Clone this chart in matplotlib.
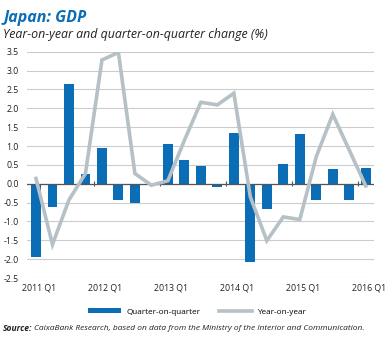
import matplotlib
import matplotlib.pyplot as plt
import numpy as np
from matplotlib.patches import Patch
from matplotlib.lines import Line2D

matplotlib.use("Agg")

quarters = ["2011 Q1", "2011 Q2", "2011 Q3", "2011 Q4",
            "2012 Q1", "2012 Q2", "2012 Q3", "2012 Q4",
            "2013 Q1", "2013 Q2", "2013 Q3", "2013 Q4",
            "2014 Q1", "2014 Q2", "2014 Q3", "2014 Q4",
            "2015 Q1", "2015 Q2", "2015 Q3", "2015 Q4",
            "2016 Q1"]
qoq = [-1.94, -0.61, 2.65, 0.26, 0.96, -0.43, -0.50, -0.04,
       1.06, 0.62, 0.47, -0.08, 1.35, -2.07, -0.68, 0.52,
       1.31, -0.43, 0.40, -0.43, 0.42]
yoy = [0.14, -1.61, -0.43, 0.27, 3.28, 3.48, 0.27, -0.04,
       0.08, 1.15, 2.16, 2.09, 2.40, -0.35, -1.51, -0.88,
       -0.95, 0.72, 1.84, 0.89, -0.06]
yticks = [3.5, 3.0, 2.5, 2.0, 1.5, 1.0, 0.5, 0.0, -0.5, -1.0, -1.5, -2.0, -2.5]

blue = "#0a6db5"
grey = "#b5c1c6"

plt.rcParams['font.family'] = ['Open Sans', 'DejaVu Sans']

fig = plt.figure(figsize=(3.9, 3.38), dpi=100)
ax = fig.add_axes([0.069, 0.1775, 0.89, 0.6695])

x = np.arange(len(quarters))
ax.bar(x, qoq, width=0.6, color=blue, zorder=3)
ax.plot(x, yoy, color=grey, linewidth=2.6, zorder=4, solid_joinstyle='miter')
ax.axhline(0, color="#555555", linewidth=0.9, zorder=3.5)

ax.set_ylim(-2.5, 3.5)
ax.set_xlim(-0.55, 20.5)
ax.set_yticks(yticks)
ax.set_yticklabels(["%.1f" % v for v in yticks])
ax.yaxis.grid(True, color="#cccccc", linewidth=0.8, zorder=0)
ax.set_axisbelow(True)

lab_idx = x[::4]
ax.set_xticks(lab_idx + 0.2)
ax.set_xticklabels([quarters[i] for i in lab_idx])
ax.tick_params(axis='both', length=0, labelsize=6.3, colors="#222222", pad=4)
ax.tick_params(axis='y', pad=6)
for s in ax.spines.values():
    s.set_visible(False)

# small year separators on the zero line
for b in lab_idx[1:] - 0.5:
    ax.vlines(b, -0.06, 0.06, color="#555555", linewidth=0.8, zorder=3.6)

fig.text(0.008, 0.97, "Japan: GDP", fontsize=11.5, fontweight='bold',
         fontstyle='italic', color=blue, va='top')
fig.text(0.008, 0.918, "Year-on-year and quarter-on-quarter change (%)",
         fontsize=8.9, fontstyle='italic', color="#222222", va='top')

handles = [Patch(facecolor=blue, edgecolor='none'),
           Line2D([0], [0], color=grey, linewidth=2.6)]
fig.legend(handles, ["Quarter-on-quarter", "Year-on-year"], ncol=2,
           loc='center', bbox_to_anchor=(0.505, 0.077), frameon=False,
           fontsize=5.9, handlelength=4.0, handleheight=0.5,
           columnspacing=2.3, handletextpad=0.6)

fig.text(0.008, 0.028, "Source:", fontsize=6.1, fontweight='bold',
         fontstyle='italic', color="#222222", va='center')
fig.text(0.087, 0.028,
         "CaixaBank Research, based on data from the Ministry of the Interior and Communication.",
         fontsize=6.0, fontstyle='italic', color="#222222", va='center')

fig.savefig("out.png", dpi=100)
